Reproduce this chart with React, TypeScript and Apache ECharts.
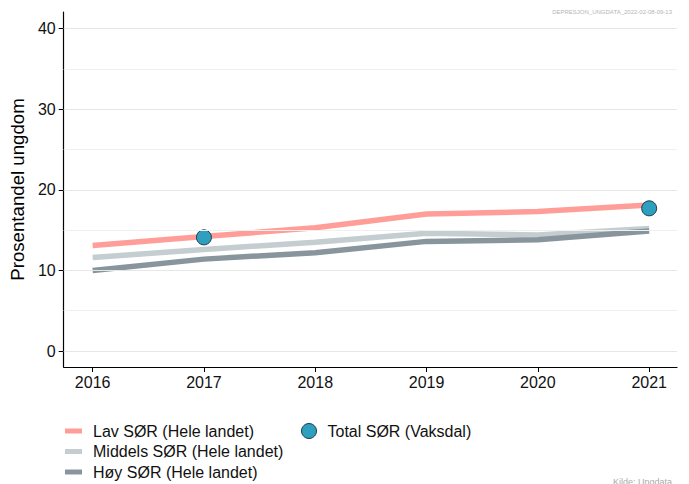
import React, { useEffect, useRef } from "react";
import * as echarts from "echarts";

const years = [2016, 2017, 2018, 2019, 2020, 2021];
const lavValues = [13.1, 14.2, 15.3, 17.0, 17.3, 18.1];
const middelsValues = [11.6, 12.6, 13.5, 14.6, 14.4, 15.2];
const hoyValues = [10.0, 11.4, 12.2, 13.6, 13.8, 14.9];
const totalYears = [2017, 2021];
const totalValues = [14.1, 17.7];
const yTicks = [0, 10, 20, 30, 40];
const yMinorGrid = [5, 15, 25, 35];

const FONT = "Liberation Sans, Arial, sans-serif";

export default function App() {
  const ref = useRef<HTMLDivElement>(null);
  useEffect(() => {
    if (!ref.current) return;
    const chart = echarts.init(ref.current, undefined, { renderer: "svg" });
    const pair = (xs: number[], ys: number[]) => xs.map((x, i) => [x, ys[i]]);
    const legendText = { fontSize: 16, color: "#111", lineHeight: 20, padding: [0, 0, 0, 6], fontFamily: FONT };
    const lineLegend = (name: string, top: number) => ({
      orient: "vertical",
      left: 65,
      top,
      padding: 0,
      itemWidth: 17,
      itemHeight: 5,
      textStyle: legendText,
      data: [{ name, icon: "rect" }],
    });
    chart.setOption({
      animation: false,
      backgroundColor: "#fff",
      textStyle: { fontFamily: FONT },
      grid: { left: 62, right: 12, top: 12, bottom: 117 },
      xAxis: {
        type: "value",
        min: 2015.74,
        max: 2021.25,
        axisLine: { show: true, onZero: false, lineStyle: { color: "#000", width: 1.2 } },
        axisTick: { show: true, length: 5, customValues: years, lineStyle: { color: "#000" } },
        axisLabel: {
          customValues: years,
          color: "#111",
          fontSize: 16,
          margin: 7,
          fontFamily: FONT,
          formatter: (v: number) => String(Math.round(v)),
        },
        splitLine: { show: false },
      },
      yAxis: {
        type: "value",
        min: -1.98,
        max: 42.05,
        name: "Prosentandel ungdom",
        nameLocation: "middle",
        nameGap: 30,
        nameTextStyle: { fontSize: 18.67, color: "#000", fontFamily: FONT },
        axisLine: { show: true, onZero: false, lineStyle: { color: "#000", width: 1.2 } },
        axisTick: { show: true, length: 5, customValues: yTicks, lineStyle: { color: "#000" } },
        axisLabel: { customValues: yTicks, color: "#111", fontSize: 16, margin: 8, fontFamily: FONT },
        splitLine: { show: false },
      },
      legend: [
        lineLegend("Lav SØR (Hele landet)", 421),
        lineLegend("Middels SØR (Hele landet)", 441.5),
        lineLegend("Høy SØR (Hele landet)", 462),
        {
          orient: "vertical",
          left: 301,
          top: 421,
          padding: 0,
          itemWidth: 15,
          itemHeight: 15,
          textStyle: legendText,
          itemStyle: { color: "#2E9FBF", borderColor: "#1B3C4B", borderWidth: 1 },
          data: [{ name: "Total SØR (Vaksdal)", icon: "circle" }],
        },
      ],
      graphic: [
        {
          type: "text",
          right: 17,
          top: 9,
          style: { text: "DEPRESJON_UNGDATA_2022-02-08-09-13", fontSize: 6, fill: "#b5b5b5", fontFamily: FONT },
        },
        {
          type: "text",
          left: 613,
          top: 477,
          style: { text: "Kilde: Ungdata", fontSize: 9, fill: "#aaa", fontFamily: FONT },
        },
      ],
      series: [
        {
          name: "grid",
          type: "line",
          data: [],
          silent: true,
          z: 0,
          markLine: {
            silent: true,
            symbol: "none",
            label: { show: false },
            data: [
              ...yTicks.map((v) => ({ yAxis: v, lineStyle: { color: "#e6e6e6", width: 1, type: "solid" } })),
              ...yMinorGrid.map((v) => ({ yAxis: v, lineStyle: { color: "#f0f0f0", width: 1, type: "solid" } })),
            ],
          },
        },
        {
          name: "Lav SØR (Hele landet)",
          type: "line",
          data: pair(years, lavValues),
          showSymbol: false,
          symbol: "none",
          z: 2,
          color: "#FF9E99",
          lineStyle: { color: "#FF9E99", width: 5.5 },
        },
        {
          name: "Middels SØR (Hele landet)",
          type: "line",
          data: pair(years, middelsValues),
          showSymbol: false,
          symbol: "none",
          z: 2,
          color: "#C4CDD0",
          lineStyle: { color: "#C4CDD0", width: 5.5 },
        },
        {
          name: "Høy SØR (Hele landet)",
          type: "line",
          data: pair(years, hoyValues),
          showSymbol: false,
          symbol: "none",
          z: 2,
          color: "#89959C",
          lineStyle: { color: "#89959C", width: 5.5 },
        },
        {
          name: "Total SØR (Vaksdal)",
          type: "scatter",
          data: pair(totalYears, totalValues),
          symbol: "circle",
          symbolSize: 15,
          z: 3,
          itemStyle: { color: "#2E9FBF", borderColor: "#1B3C4B", borderWidth: 1, opacity: 1 },
        },
      ],
    });
    return () => chart.dispose();
  }, []);
  return <div ref={ref} style={{ width: 689, height: 484, position: "absolute", left: 0, top: 0 }} />;
}
